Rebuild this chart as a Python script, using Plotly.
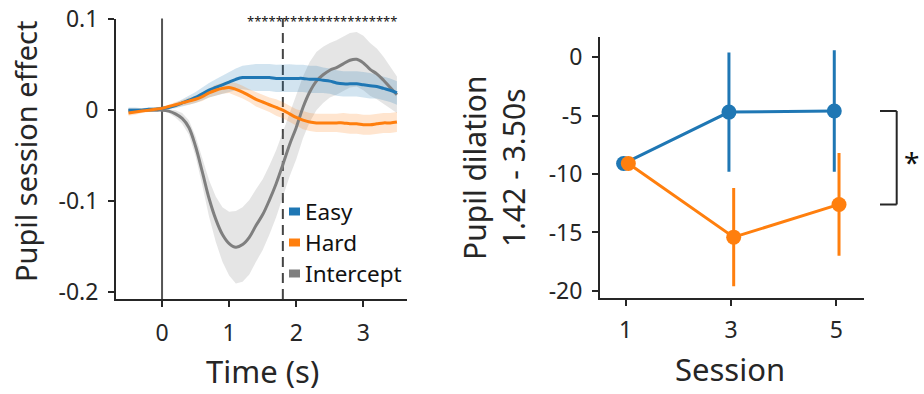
import plotly.graph_objects as go

# ---------------- data ----------------
time = [round(-0.5 + 0.1 * i, 1) for i in range(41)]

easy = [0.000, 0.000, 0.000, 0.001, 0.001, 0.002, 0.003, 0.005, 0.008, 0.011,
        0.014, 0.018, 0.022, 0.025, 0.028, 0.031, 0.034, 0.036, 0.036, 0.036,
        0.036, 0.036, 0.035, 0.035, 0.035, 0.035, 0.035, 0.034, 0.034, 0.033,
        0.032, 0.030, 0.029, 0.029, 0.029, 0.028, 0.027, 0.026, 0.024, 0.022, 0.019]
easy_se = [0.003, 0.003, 0.002, 0.002, 0.002, 0.002, 0.002, 0.003, 0.004, 0.005,
           0.006, 0.007, 0.008, 0.009, 0.010, 0.011, 0.012, 0.013, 0.014, 0.015,
           0.015, 0.015, 0.015, 0.0155, 0.0155, 0.015, 0.015, 0.015, 0.015, 0.014,
           0.014, 0.014, 0.014, 0.014, 0.014, 0.014, 0.014, 0.013, 0.013, 0.013, 0.013]

hard = [-0.003, -0.002, -0.001, 0.000, 0.001, 0.002, 0.004, 0.006, 0.008, 0.010,
        0.012, 0.015, 0.019, 0.022, 0.024, 0.025, 0.023, 0.020, 0.016, 0.012,
        0.009, 0.006, 0.003, 0.000, -0.004, -0.008, -0.011, -0.013, -0.014, -0.014,
        -0.014, -0.014, -0.014, -0.015, -0.015, -0.016, -0.016, -0.015, -0.014, -0.014, -0.013]
hard_se = [0.003, 0.003, 0.002, 0.002, 0.002, 0.002, 0.002, 0.003, 0.003, 0.004,
           0.004, 0.005, 0.005, 0.006, 0.006, 0.006, 0.007, 0.007, 0.007, 0.008,
           0.008, 0.008, 0.009, 0.009, 0.009, 0.009, 0.010, 0.010, 0.010, 0.010,
           0.010, 0.010, 0.011, 0.011, 0.011, 0.011, 0.011, 0.011, 0.011, 0.011, 0.011]

intercept = [0.000, 0.000, 0.000, 0.000, 0.000, 0.000, -0.001, -0.004, -0.009, -0.019,
             -0.040, -0.068, -0.097, -0.120, -0.137, -0.147, -0.151, -0.148, -0.140, -0.127,
             -0.115, -0.099, -0.081, -0.060, -0.038, -0.019, 0.003, 0.020, 0.032, 0.039,
             0.044, 0.047, 0.051, 0.055, 0.056, 0.052, 0.045, 0.040, 0.033, 0.025, 0.017]
intercept_se = [0.000, 0.000, 0.000, 0.000, 0.000, 0.001, 0.002, 0.004, 0.006, 0.008,
                0.011, 0.015, 0.020, 0.025, 0.030, 0.035, 0.040, 0.041, 0.041, 0.040,
                0.039, 0.038, 0.037, 0.036, 0.035, 0.035, 0.034, 0.033, 0.032, 0.031,
                0.030, 0.030, 0.030, 0.030, 0.030, 0.030, 0.029, 0.028, 0.026, 0.023, 0.020]

sig_label = "*" * 21
sig_start, sig_end = 1.27, 3.5
stim_onset = 0.0
window_start = 1.8

sessions = [1, 3, 5]
pupil_easy = [-9.1, -4.7, -4.6]
pupil_easy_err = [0.3, 5.1, 5.2]
pupil_hard = [-9.1, -15.4, -12.6]
pupil_hard_err = [0.3, 4.2, 4.4]

BLUE, ORANGE, GRAY = "#1f77b4", "#ff7f0e", "#7f7f7f"
BLUE_F = "rgba(31,119,180,0.2)"
ORANGE_F = "rgba(255,127,14,0.2)"
GRAY_F = "rgba(127,127,127,0.2)"
INK = "#262626"
FONT = "Noto Sans"

W, H = 924, 394
def px(x):
    return x / W
def py(y):
    return 1 - y / H

fig = go.Figure()

# bands
for m, se, fc in [(intercept, intercept_se, GRAY_F), (easy, easy_se, BLUE_F), (hard, hard_se, ORANGE_F)]:
    upper = [a + b for a, b in zip(m, se)]
    lower = [a - b for a, b in zip(m, se)]
    fig.add_trace(go.Scatter(x=time + time[::-1], y=upper + lower[::-1], fill="toself",
                             fillcolor=fc, line=dict(width=0), mode="lines",
                             hoverinfo="skip", showlegend=False, xaxis="x", yaxis="y"))
for m, c in [(intercept, GRAY), (easy, BLUE), (hard, ORANGE)]:
    fig.add_trace(go.Scatter(x=time, y=m, mode="lines", line=dict(color=c, width=3, shape="spline"),
                             showlegend=False, xaxis="x", yaxis="y"))

# right panel
off_easy, off_hard = -0.04, 0.05
fig.add_trace(go.Scatter(x=[s + off_easy for s in sessions], y=pupil_easy, mode="lines+markers",
                         line=dict(color=BLUE, width=3), marker=dict(size=15, color=BLUE),
                         error_y=dict(type="data", array=pupil_easy_err, color=BLUE, thickness=3, width=0),
                         showlegend=False, xaxis="x2", yaxis="y2"))
fig.add_trace(go.Scatter(x=[s + off_hard for s in sessions], y=pupil_hard, mode="lines+markers",
                         line=dict(color=ORANGE, width=3), marker=dict(size=15, color=ORANGE),
                         error_y=dict(type="data", array=pupil_hard_err, color=ORANGE, thickness=3, width=0),
                         showlegend=False, xaxis="x2", yaxis="y2"))

tickfont = dict(family=FONT, size=23, color=INK)
axis_common = dict(showline=True, linecolor=INK, linewidth=2, ticks="outside", ticklen=6,
                   tickwidth=2, tickcolor=INK, showgrid=False, zeroline=False, tickfont=tickfont,
                   mirror=False, automargin=False)

fig.update_layout(
    width=W, height=H, margin=dict(l=0, r=0, t=0, b=0),
    paper_bgcolor="white", plot_bgcolor="white",
    font=dict(family=FONT, color=INK),
    xaxis=dict(domain=[px(116), px(407)], range=[-0.686, 3.65], tickvals=[0, 1, 2, 3],
               ticktext=["0", "1", "2", "3"], anchor="y", ticklabelstandoff=6, **axis_common),
    yaxis=dict(domain=[py(299), py(18.5)], range=[-0.208, 0.101], tickvals=[-0.2, -0.1, 0, 0.1],
               ticktext=["-0.2", "-0.1", "0", "0.1"], anchor="x", ticklabelstandoff=5, **axis_common),
    xaxis2=dict(domain=[px(600), px(864.3)], range=[0.512, 5.53], tickvals=sessions,
                ticktext=[str(s) for s in sessions], anchor="y2", ticklabelstandoff=4, **axis_common),
    yaxis2=dict(domain=[py(298.3), py(37.3)], range=[-20.63, 1.7], tickvals=[0, -5, -10, -15, -20],
                ticktext=["0", "-5", "-10", "-15", "-20"], anchor="x2", ticklabelstandoff=5, **axis_common),
)

shapes = [
    dict(type="line", xref="x", yref="paper", x0=stim_onset, x1=stim_onset, y0=py(299), y1=py(18.5),
         line=dict(color="#555555", width=2), layer="below"),
    dict(type="line", xref="x", yref="paper", x0=window_start, x1=window_start, y0=py(299), y1=py(18.5),
         line=dict(color="#444444", width=2, dash="10px,6px"), layer="below"),
    # bracket
    dict(type="line", xref="paper", yref="y2", x0=px(880), x1=px(896.7), y0=pupil_easy[-1], y1=pupil_easy[-1],
         line=dict(color=INK, width=2)),
    dict(type="line", xref="paper", yref="y2", x0=px(896.7), x1=px(896.7), y0=pupil_easy[-1], y1=pupil_hard[-1],
         line=dict(color=INK, width=2)),
    dict(type="line", xref="paper", yref="y2", x0=px(880), x1=px(896.7), y0=pupil_hard[-1], y1=pupil_hard[-1],
         line=dict(color=INK, width=2)),
]
# legend squares
legend_items = [("Easy", BLUE, 211.5), ("Hard", ORANGE, 242.5), ("Intercept", GRAY, 273.5)]
annotations = []
for name, c, yc in legend_items:
    shapes.append(dict(type="rect", xref="paper", yref="paper", x0=px(289), x1=px(300),
                       y0=py(yc + 4), y1=py(yc - 4), fillcolor=c, line=dict(width=0)))
    annotations.append(dict(text=name, xref="paper", yref="paper", x=px(304), y=py(yc),
                            xanchor="left", yanchor="middle", showarrow=False, borderpad=0,
                            font=dict(family=FONT, size=22.5, color="#111111")))

annotations += [
    dict(text=sig_label, xref="x", yref="paper", x=(sig_start + sig_end) / 2, y=py(21),
         xanchor="center", yanchor="middle", showarrow=False, font=dict(family=FONT, size=13, color="#111111")),
    dict(text="*", xref="paper", yref="paper", x=px(911), y=py(162), xanchor="center", yanchor="middle",
         showarrow=False, font=dict(family=FONT, size=28, color="#111111")),
    dict(text="Time (s)", xref="paper", yref="paper", x=px(262), y=py(371), xanchor="center",
         yanchor="middle", showarrow=False, font=dict(family=FONT, size=31, color=INK)),
    dict(text="Session", xref="paper", yref="paper", x=px(730), y=py(369), xanchor="center",
         yanchor="middle", showarrow=False, font=dict(family=FONT, size=31, color=INK)),
    dict(text="Pupil session effect", xref="paper", yref="paper", x=px(25), y=py(152), xanchor="center",
         yanchor="middle", textangle=-90, showarrow=False, font=dict(family=FONT, size=29, color=INK)),
    dict(text="Pupil dilation<br>1.42 - 3.50s", xref="paper", yref="paper", x=px(494), y=py(168),
         xanchor="center", yanchor="middle", textangle=-90, showarrow=False,
         font=dict(family=FONT, size=30, color=INK)),
]
fig.update_layout(shapes=shapes, annotations=annotations)

fig.write_html("out.html")
